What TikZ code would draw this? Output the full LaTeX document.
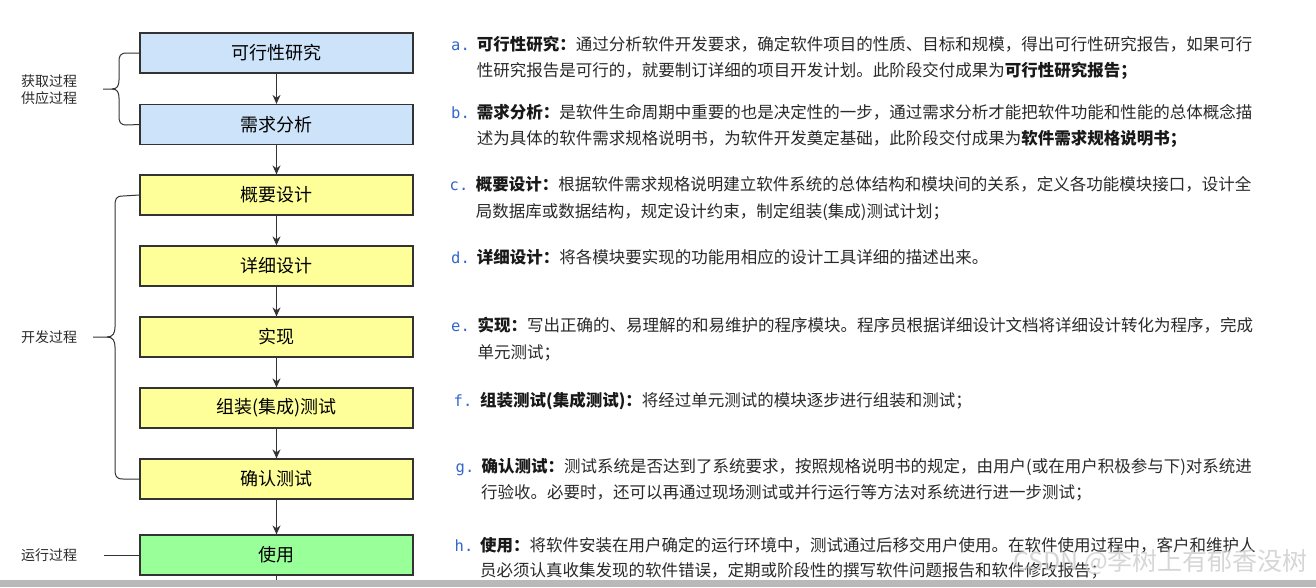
\documentclass[tikz,border=0pt]{standalone}
\usepackage{fontspec}
\setmainfont{Noto Sans CJK SC}
\newfontfamily\lblfont{DejaVu Sans Mono}
\usetikzlibrary{arrows.meta}
\definecolor{boxline}{HTML}{333333}
\definecolor{bluefill}{HTML}{CCE3FA}
\definecolor{yelfill}{HTML}{FFFF99}
\definecolor{grnfill}{HTML}{99FF99}
\definecolor{bodytxt}{HTML}{2A2A2A}
\definecolor{lblblue}{HTML}{3366CC}
\tikzset{
  stepbox/.style={draw=boxline, line width=1.2pt, minimum width=273pt, minimum height=40pt, inner sep=0pt, font=\fontsize{18}{20}\selectfont, text=black},
  flow/.style={draw=boxline, line width=1pt, -{Stealth[length=9pt,width=8pt]}},
  brace/.style={draw=boxline, line width=1pt},
  side/.style={font=\fontsize{14}{16}\selectfont, text=bodytxt, anchor=west, inner sep=0pt},
  desc/.style={font=\fontsize{16.5}{20}\selectfont, text=bodytxt, anchor=base west, inner sep=0pt},
  lbl/.style={font=\lblfont\fontsize{15.5}{17}\selectfont, text=lblblue, anchor=base west, inner sep=0pt},
}
\newcommand{\ttl}[1]{{\bfseries\color{black!90}#1}}
\begin{document}
\begin{tikzpicture}[x=1pt,y=-1pt]
\useasboundingbox (0,0) rectangle (1316,587);
\fill[white] (0,0) rectangle (1316,587);

% boxes
\node[stepbox, fill=bluefill] (b1) at (276.5,53) {可行性研究};
\node[stepbox, fill=bluefill] (b2) at (276.5,124.5) {需求分析};
\node[stepbox, fill=yelfill] (b3) at (276.5,195) {概要设计};
\node[stepbox, fill=yelfill] (b4) at (276.5,266) {详细设计};
\node[stepbox, fill=yelfill] (b5) at (276.5,337) {实现};
\node[stepbox, fill=yelfill] (b6) at (276.5,408) {组装(集成)测试};
\node[stepbox, fill=yelfill] (b7) at (276.5,479) {确认测试};
\node[stepbox, fill=grnfill] (b8) at (276.5,555) {使用};

\draw[flow] (b1) -- (b2);
\draw[flow] (b2) -- (b3);
\draw[flow] (b3) -- (b4);
\draw[flow] (b4) -- (b5);
\draw[flow] (b5) -- (b6);
\draw[flow] (b6) -- (b7);
\draw[flow] (b7) -- (b8);
\coordinate (bend) at (276.5,582);
\draw[draw=boxline, line width=1pt] (b8.south) -- (bend);

% side labels
\node[side] (s1a) at (21,81) {获取过程};
\node[side] (s1b) at (21,98) {供应过程};
\node[side] (s2) at (21,337) {开发过程};
\node[side] (s3) at (21,555) {运行过程};

% braces
\coordinate (t1) at (103,89);
\draw[brace] (b1.west) -- (127,53) .. controls (120,53) and (119,56) .. (119,62)
  -- (119,80) .. controls (119,86) and (117,89) .. (112,89) -- (t1);
\draw[brace] (b2.west) -- (127,125) .. controls (120,125) and (119,122) .. (119,116)
  -- (119,98) .. controls (119,92) and (117,89) .. (112,89);
\coordinate (t2) at (93,337);
\draw[brace] (b3.west) -- (123,196) .. controls (116,196) and (115,199) .. (115,206)
  -- (115,327) .. controls (115,333) and (113,337) .. (107,337) -- (t2);
\draw[brace] (b7.west) -- (123,479) .. controls (116,479) and (115,476) .. (115,469)
  -- (115,347) .. controls (115,341) and (113,337) .. (107,337);
\coordinate (t3) at (104,555);
\draw[brace] (b8.west) -- (t3);

% descriptions
\node[lbl] (la) at (451,50.3) {a.};
\node[desc] (a1) at (476.7,50.3) {\ttl{可行性研究：}通过分析软件开发要求，确定软件项目的性质、目标和规模，得出可行性研究报告，如果可行};
\node[desc] (a2) at (476.7,76.3) {性研究报告是可行的，就要制订详细的项目开发计划。此阶段交付成果为\ttl{可行性研究报告；}};

\node[lbl] (lb) at (451,118.6) {b.};
\node[desc] (b1t) at (476.7,118.6) {\ttl{需求分析：}是软件生命周期中重要的也是决定性的一步，通过需求分析才能把软件功能和性能的总体概念描};
\node[desc] (b2t) at (476.7,144.6) {述为具体的软件需求规格说明书，为软件开发奠定基础，此阶段交付成果为\ttl{软件需求规格说明书；}};

\node[lbl] (lc) at (449.5,190.6) {c.};
\node[desc] (c1t) at (475.7,190.6) {\ttl{概要设计：}根据软件需求规格说明建立软件系统的总体结构和模块间的关系，定义各功能模块接口，设计全};
\node[desc] (c2t) at (475.7,217.3) {局数据库或数据结构，规定设计约束，制定组装(集成)测试计划；};

\node[lbl] (ld) at (451,263.6) {d.};
\node[desc] (d1t) at (476.7,263.6) {\ttl{详细设计：}将各模块要实现的功能用相应的设计工具详细的描述出来。};

\node[lbl] (le) at (451,331.3) {e.};
\node[desc] (e1t) at (477.3,331.3) {\ttl{实现：}写出正确的、易理解的和易维护的程序模块。程序员根据详细设计文档将详细设计转化为程序，完成};
\node[desc] (e2t) at (477.3,358) {单元测试；};

\node[lbl] (lf) at (453.5,406.3) {f.};
\node[desc] (f1t) at (480,406.3) {\ttl{组装测试(集成测试)：}将经过单元测试的模块逐步进行组装和测试；};

\node[lbl] (lg) at (455.5,472) {g.};
\node[desc] (g1t) at (481.5,472) {\ttl{确认测试：}测试系统是否达到了系统要求，按照规格说明书的规定，由用户(或在用户积极参与下)对系统进};
\node[desc] (g2t) at (481,498) {行验收。必要时，还可以再通过现场测试或并行运行等方法对系统进行进一步测试；};

\node[lbl] (lh) at (454.5,551.3) {h.};
\node[desc] (h1t) at (480,551.3) {\ttl{使用：}将软件安装在用户确定的运行环境中，测试通过后移交用户使用。在软件使用过程中，客户和维护人};
\node[desc] (h2t) at (480,576.3) {员必须认真收集发现的软件错误，定期或阶段性的撰写软件问题报告和软件修改报告；};

% watermark
\node[font=\fontsize{25}{28}\selectfont, text=gray!40, opacity=0.8, anchor=west, inner sep=0pt] (wm) at (1013,562) {CSDN @李树上有郁香没树};

% bottom bar
\fill[gray!55] (0,580) rectangle (1316,587);
\end{tikzpicture}
\end{document}
